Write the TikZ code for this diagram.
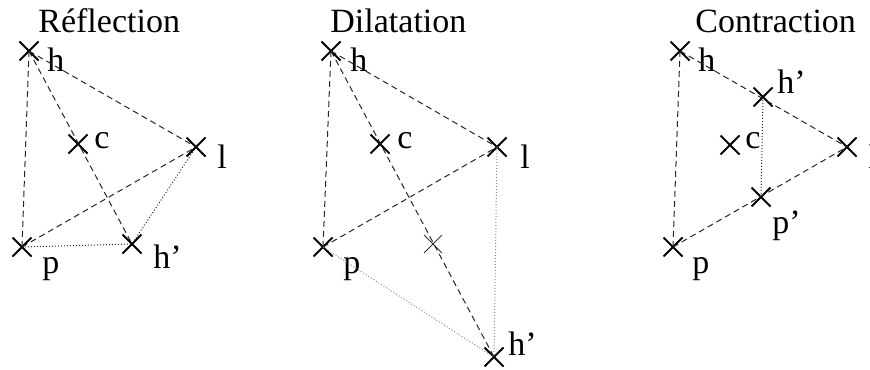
\documentclass[tikz,border=0pt]{standalone}
\usepackage{fontspec}
\setmainfont{Liberation Serif}
\usetikzlibrary{positioning, shapes.misc}

\tikzset{
  pt/.style={cross out, draw, line width=1pt, minimum size=8.5pt, inner sep=0pt},
  ptthin/.style={pt, line width=0.4pt, draw=black!80},
  lbl/.style={anchor=base west, inner sep=0pt, font=\fontsize{17}{20}\selectfont},
  ttl/.style={lbl},
  edge/.style={line width=0.5pt, black!85, dash pattern=on 3pt off 2pt},
  aux/.style={line width=0.5pt, black!85, dash pattern=on 0.5pt off 1pt},
  auxg/.style={aux, black!45}
}

\begin{document}
\begin{tikzpicture}[x=0.5pt, y=-0.5pt]
  \useasboundingbox (0,0) rectangle (870,369);

  % Reflection
  \node[ttl] (t1) at (38,33) {Réflection};
  \node[pt] (rh) at (29,51) {};
  \node[pt] (rc) at (78,144) {};
  \node[pt] (rl) at (196,147) {};
  \node[pt] (rp) at (22,247) {};
  \node[pt] (rr) at (132,244) {};
  \node[lbl] (rhl) at (47,72) {h};
  \node[lbl] (rcl) at (94,148) {c};
  \node[lbl] (rll) at (217,168) {l};
  \node[lbl] (rpl) at (42,273) {p};
  \node[lbl] (rrl) at (153,268) {h'};
  \draw[edge] (rh.center) -- (rp.center);
  \draw[edge] (rh.center) -- (rl.center);
  \draw[edge] (rp.center) -- (rl.center);
  \draw[edge] (rh.center) -- (rr.center);
  \draw[aux] (rp.center) -- (rr.center);
  \draw[aux] (rl.center) -- (rr.center);

  % Dilatation
  \node[ttl] (t2) at (330,33) {Dilatation};
  \node[pt] (dh) at (331,51) {};
  \node[pt] (dc) at (380,144) {};
  \node[pt] (dl) at (497,147) {};
  \node[pt] (dp) at (323,247) {};
  \node[ptthin] (dr) at (433,244) {};
  \node[pt] (de) at (494,357) {};
  \node[lbl] (dhl) at (350,72) {h};
  \node[lbl] (dcl) at (397,148) {c};
  \node[lbl] (dll) at (520,168) {l};
  \node[lbl] (dpl) at (343,273) {p};
  \node[lbl] (del) at (508,355) {h'};
  \draw[edge] (dh.center) -- (dp.center);
  \draw[edge] (dh.center) -- (dl.center);
  \draw[edge] (dp.center) -- (dl.center);
  \draw[edge] (dh.center) -- (de.center);
  \draw[auxg] (dp.center) -- (de.center);
  \draw[auxg] (dl.center) -- (de.center);

  % Contraction
  \node[ttl] (t3) at (695,33) {Contraction};
  \node[pt] (ch) at (680,51) {};
  \node[pt] (cr) at (763,97) {};
  \node[pt] (cc) at (730,145) {};
  \node[pt] (cl) at (847,147) {};
  \node[pt] (cq) at (761,197) {};
  \node[pt] (cp) at (673,247) {};
  \node[lbl] (chl) at (698,72) {h};
  \node[lbl] (crl) at (777,93) {h'};
  \node[lbl] (ccl) at (745,148) {c};
  \node[lbl] (cll) at (868,168) {l};
  \node[lbl] (cql) at (772,233) {p'};
  \node[lbl] (cpl) at (692,273) {p};
  \draw[edge] (ch.center) -- (cp.center);
  \draw[edge] (ch.center) -- (cl.center);
  \draw[edge] (cp.center) -- (cl.center);
  \draw[aux] (cr.center) -- (cq.center);
\end{tikzpicture}
\end{document}
